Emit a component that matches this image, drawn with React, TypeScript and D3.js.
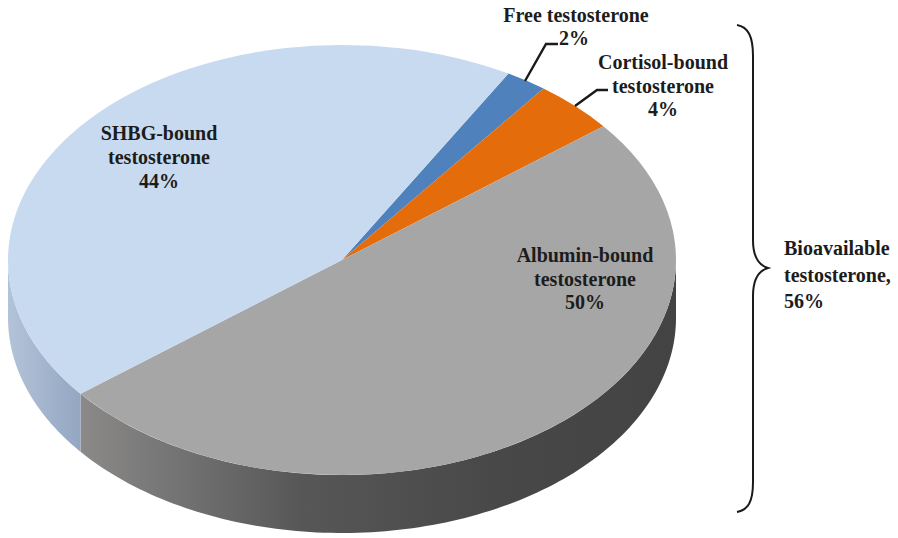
import React from "react";
import * as d3 from "d3";

// Share of circulating testosterone by binding state, percent.
const sliceNames = ["Free testosterone", "Cortisol-bound testosterone", "Albumin-bound testosterone", "SHBG-bound testosterone"];
const sliceValues = [2, 4, 50, 44];
const sliceColors = ["#4f81bd", "#e46c0a", "#a6a6a6", "#c8daef"];

const labelLines = [
  { lines: ["Free testosterone", "2%"], x: [576, 574], y: 22, dy: 23, anchor: "middle" },
  { lines: ["Cortisol-bound", "testosterone", "4%"], x: [663, 663, 663], y: 69, dy: 23.5, anchor: "middle" },
  { lines: ["Albumin-bound", "testosterone", "50%"], x: [585, 585, 585], y: 262, dy: 23.5, anchor: "middle" },
  { lines: ["SHBG-bound", "testosterone", "44%"], x: [159, 159, 159], y: 140, dy: 24, anchor: "middle" },
  { lines: ["Bioavailable", "testosterone,", "56%"], x: [784, 784, 784], y: 255, dy: 26.5, anchor: "start" },
];

const leaderLines = [
  [[525, 81], [546, 44], [558, 44]],
  [[575, 106], [597, 90], [608, 90]],
];

// Ellipse of the pie's top face and the height of its rim.
const CX = 342;
const CY = 260;
const RX = 334;
const RY = 215;
const DEPTH = 58;
const START = (29.9 * Math.PI) / 180;

// Slices are built on a large circle, then squashed into the ellipse; a small
// radius would lose precision to the path's rounded coordinates.
const BASE_R = 1000;

const pie = d3.pie<number>().sort(null).startAngle(START).endAngle(START + 2 * Math.PI);
const arcs = pie(sliceValues);
const sliceArc = d3.arc<d3.PieArcDatum<number>>().innerRadius(0).outerRadius(BASE_R);

const xAt = (a: number) => CX + RX * Math.sin(a);
const yAt = (a: number) => CY - RY * Math.cos(a);

const rim = d3
  .area<number>()
  .x((a) => xAt(a))
  .y0((a) => yAt(a))
  .y1((a) => yAt(a) + DEPTH);

// Rim segment for the part of an arc that faces the viewer (90 to 270 degrees).
function rimPath(a0: number, a1: number) {
  const lo = Math.max(a0, Math.PI / 2);
  const hi = Math.min(a1, (3 * Math.PI) / 2);
  if (hi <= lo) return null;
  const n = 120;
  const samples = d3.range(n + 1).map((i) => lo + ((hi - lo) * i) / n);
  return rim(samples);
}

const bracePath = () => {
  const p = d3.path();
  p.moveTo(737, 25);
  p.bezierCurveTo(748, 27, 753, 36, 753, 56);
  p.lineTo(753, 240);
  p.bezierCurveTo(753, 256, 758, 265, 768, 268);
  p.bezierCurveTo(758, 271, 753, 280, 753, 296);
  p.lineTo(753, 482);
  p.bezierCurveTo(753, 502, 748, 510, 737, 512);
  return p.toString();
};

const leader = d3.line();

export default function App() {
  const albuminEnd = arcs[2].endAngle;
  const shbgEnd = arcs[3].endAngle;
  return (
    <svg
      width={898}
      height={538}
      viewBox="0 0 898 538"
      style={{ position: "absolute", left: 0, top: 0, background: "#fff" }}
      fontFamily="'Liberation Serif', serif"
    >
      <defs>
        <linearGradient id="rimGrey" gradientUnits="userSpaceOnUse" x1={80} x2={676} y1={0} y2={0}>
          <stop offset="0" stopColor="#8c8a89" />
          <stop offset="0.15" stopColor="#757575" />
          <stop offset="0.37" stopColor="#575757" />
          <stop offset="0.7" stopColor="#484848" />
          <stop offset="1" stopColor="#434343" />
        </linearGradient>
        <linearGradient id="rimBlue" gradientUnits="userSpaceOnUse" x1={8} x2={80} y1={0} y2={0}>
          <stop offset="0" stopColor="#b3c3d9" />
          <stop offset="1" stopColor="#94a7c1" />
        </linearGradient>
      </defs>

      <path d={rimPath(arcs[2].startAngle, albuminEnd) ?? ""} fill="url(#rimGrey)" />
      <path d={rimPath(albuminEnd, shbgEnd) ?? ""} fill="url(#rimBlue)" />

      <g transform={`translate(${CX},${CY}) scale(${RX / BASE_R},${RY / BASE_R})`}>
        {arcs.map((d, i) => (
          <path key={sliceNames[i]} d={sliceArc(d) ?? ""} fill={sliceColors[i]} />
        ))}
      </g>

      {leaderLines.map((pts, i) => (
        <path key={i} d={leader(pts as [number, number][]) ?? ""} fill="none" stroke="#1a1a1a" strokeWidth={2.4} />
      ))}

      <path d={bracePath()} fill="none" stroke="#1a1a1a" strokeWidth={2} />

      {labelLines.map((l) => (
        <text key={l.lines[0]} fontSize={20} fontWeight={700} fill="#1c1c1c" textAnchor={l.anchor}>
          {l.lines.map((t, i) => (
            <tspan key={t} x={l.x[i]} y={l.y + i * l.dy}>
              {t}
            </tspan>
          ))}
        </text>
      ))}
    </svg>
  );
}
